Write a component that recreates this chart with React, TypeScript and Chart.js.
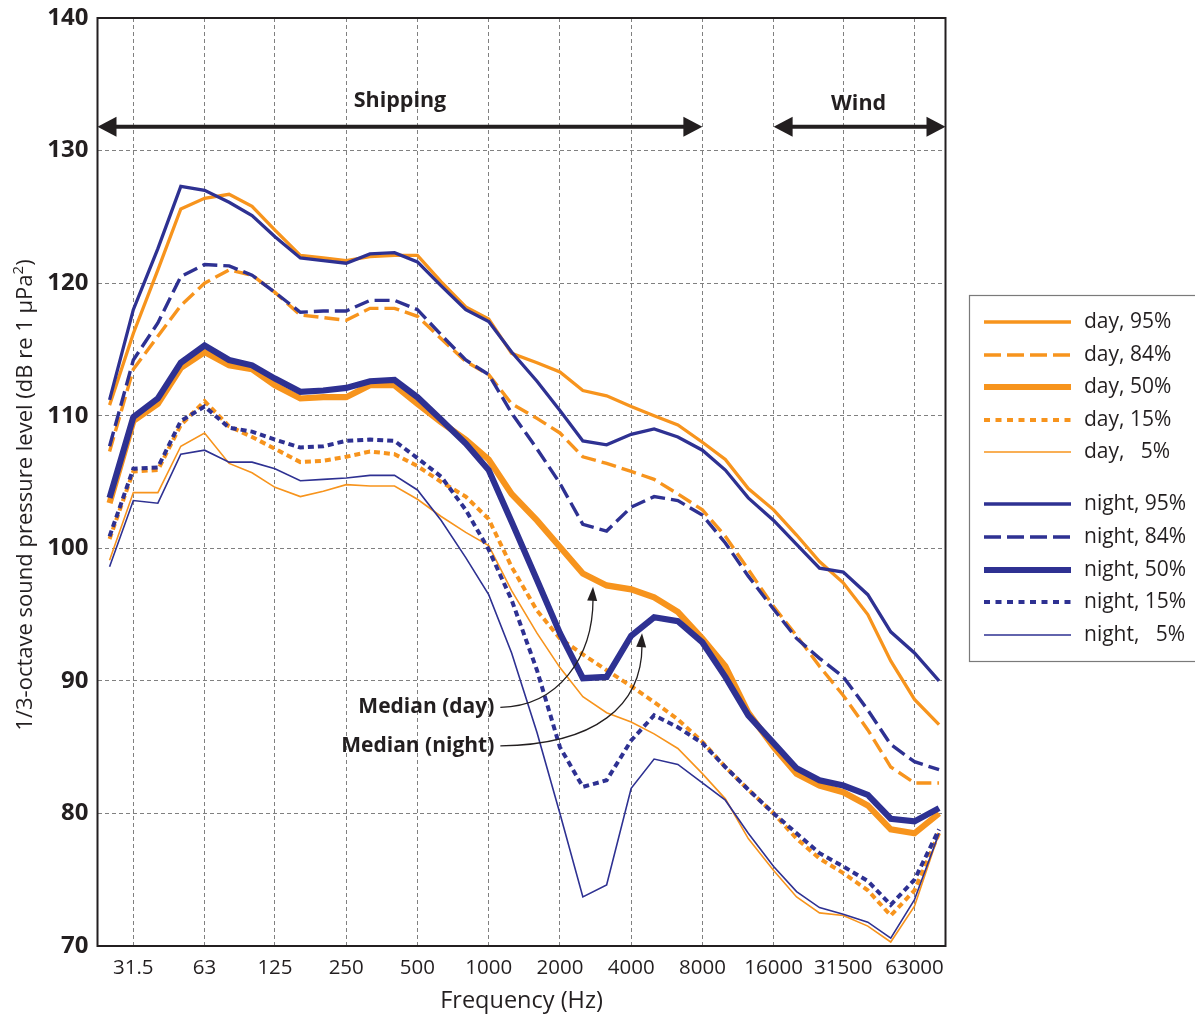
import { useEffect, useRef } from "react";
import { Chart, registerables } from "chart.js";

Chart.register(...registerables);

// ---------- data ----------
const frequencies = [
  25, 31.5, 40, 50, 63, 80, 100, 125, 160, 200, 250, 315, 400, 500, 630, 800,
  1000, 1250, 1600, 2000, 2500, 3150, 4000, 5000, 6300, 8000, 10000, 12500,
  16000, 20000, 25000, 31500, 40000, 50000, 63000, 80000,
];

const xTickValues = [31.5, 63, 125, 250, 500, 1000, 2000, 4000, 8000, 16000, 31500, 63000];
const yTickValues = [70, 80, 90, 100, 110, 120, 130, 140];

const day95 = [110.8, 116.2, 121.0, 125.6, 126.4, 126.7, 125.8, 124.0, 122.1, 121.9, 121.7, 122.0, 122.1, 122.1, 120.1, 118.2, 117.3, 114.7, 114.0, 113.3, 111.9, 111.5, 110.7, 110.0, 109.3, 108.0, 106.7, 104.5, 102.9, 101.0, 99.0, 97.4, 95.0, 91.5, 88.6, 86.7];
const day84 = [107.3, 113.5, 116.0, 118.3, 120.0, 121.0, 120.6, 119.3, 117.6, 117.4, 117.2, 118.1, 118.1, 117.5, 115.8, 114.1, 113.1, 110.9, 109.8, 108.7, 106.9, 106.4, 105.8, 105.2, 104.1, 102.9, 100.9, 98.4, 95.6, 93.4, 91.1, 88.9, 86.3, 83.5, 82.3, 82.3];
const day50 = [103.4, 109.6, 110.9, 113.6, 114.8, 113.8, 113.5, 112.3, 111.3, 111.4, 111.4, 112.3, 112.3, 110.9, 109.5, 108.2, 106.7, 104.1, 102.1, 100.1, 98.1, 97.2, 96.9, 96.3, 95.2, 93.2, 91.1, 87.6, 85.0, 83.0, 82.1, 81.6, 80.6, 78.8, 78.5, 80.0];
const day15 = [100.7, 105.8, 105.9, 109.3, 111.1, 109.2, 108.4, 107.5, 106.5, 106.6, 106.9, 107.3, 107.1, 106.2, 105.0, 103.9, 102.2, 98.6, 95.3, 93.2, 92.0, 90.8, 89.6, 88.4, 87.1, 85.4, 83.5, 81.8, 80.0, 78.1, 76.6, 75.5, 74.2, 72.3, 74.2, 78.5];
const day5 = [99.1, 104.2, 104.2, 107.7, 108.7, 106.4, 105.7, 104.6, 103.9, 104.3, 104.8, 104.7, 104.7, 103.7, 102.4, 101.2, 100.2, 96.8, 93.6, 91.0, 88.8, 87.6, 86.9, 86.0, 84.9, 83.0, 81.1, 78.1, 75.7, 73.7, 72.5, 72.3, 71.5, 70.3, 73.0, 78.5];

const night95 = [111.2, 118.0, 122.6, 127.3, 127.0, 126.1, 125.1, 123.5, 121.9, 121.7, 121.5, 122.2, 122.3, 121.6, 119.8, 118.0, 117.1, 114.8, 112.6, 110.4, 108.1, 107.8, 108.6, 109.0, 108.4, 107.4, 105.9, 103.8, 102.1, 100.3, 98.5, 98.2, 96.5, 93.7, 92.1, 90.0];
const night84 = [107.7, 114.2, 117.0, 120.5, 121.4, 121.3, 120.6, 119.3, 117.8, 117.9, 117.9, 118.7, 118.7, 118.0, 116.1, 114.2, 113.1, 110.2, 107.5, 104.9, 101.8, 101.3, 103.1, 103.9, 103.6, 102.5, 100.4, 97.9, 95.4, 93.2, 91.7, 90.3, 87.8, 85.2, 83.9, 83.3];
const night50 = [103.8, 109.9, 111.3, 114.0, 115.3, 114.2, 113.8, 112.8, 111.8, 111.9, 112.1, 112.6, 112.7, 111.4, 109.7, 107.9, 105.9, 102.0, 97.6, 93.6, 90.2, 90.3, 93.4, 94.8, 94.5, 92.9, 90.3, 87.4, 85.3, 83.4, 82.5, 82.1, 81.4, 79.6, 79.4, 80.4];
const night15 = [100.9, 106.0, 106.1, 109.6, 110.7, 109.1, 108.8, 108.2, 107.6, 107.7, 108.1, 108.2, 108.1, 106.8, 105.4, 102.9, 99.9, 96.1, 90.8, 85.0, 82.0, 82.5, 85.5, 87.4, 86.5, 85.3, 83.5, 81.8, 80.0, 78.5, 77.0, 76.0, 74.9, 73.1, 75.0, 78.8];
const night5 = [98.6, 103.6, 103.4, 107.1, 107.4, 106.5, 106.5, 106.0, 105.1, 105.2, 105.3, 105.5, 105.5, 104.4, 102.1, 99.3, 96.5, 92.1, 86.1, 80.0, 73.7, 74.6, 81.9, 84.1, 83.7, 82.3, 81.0, 78.5, 76.0, 74.1, 72.9, 72.4, 71.8, 70.6, 73.5, 78.5];

const percentiles = ["95%", "84%", "50%", "15%", "5%"];
const dayLabels = ["day, 95%", "day, 84%", "day, 50%", "day, 15%", "day,   5%"];
const nightLabels = ["night, 95%", "night, 84%", "night, 50%", "night, 15%", "night,   5%"];

// annotation anchors (frequency Hz, level dB)
const X_MIN = 22.23;
const X_MAX = 85180;
const Y_MIN = 70;
const Y_MAX = 140;
const bandArrowLevel = 131.8;
const shippingBand = [X_MIN, 8000];
const windBand = [16000, X_MAX];
const medianDayLabel = { f: 1120, db: 88.0 };
const medianDayTip = { f: 2760, db: 97.1 };
const medianNightLabel = { f: 1120, db: 85.1 };
const medianNightTip = { f: 4445, db: 93.6 };

// ---------- styles ----------
const ORANGE = "#F7941D";
const BLUE = "#2E3192";
const TEXT = "#231F20";
const GRID = "#808080";
const FONT = "'Open Sans', 'Noto Sans', sans-serif";

const styleFor: Record<string, { width: number; dash: number[] }> = {
  "95%": { width: 3.3, dash: [] },
  "84%": { width: 3.4, dash: [15, 6] },
  "50%": { width: 6.2, dash: [] },
  "15%": { width: 4, dash: [6, 4] },
  "5%": { width: 1.6, dash: [] },
};

const daySeries = [day95, day84, day50, day15, day5];
const nightSeries = [night95, night84, night50, night15, night5];

function makeDataset(label: string, values: number[], color: string, pct: string, order: number) {
  const s = styleFor[pct];
  return {
    label,
    data: frequencies.map((f, i) => ({ x: f, y: values[i] })),
    borderColor: color,
    backgroundColor: color,
    borderWidth: s.width,
    borderDash: s.dash,
    pointRadius: 0,
    tension: 0,
    fill: false,
    order,
  };
}

function drawArrowHead(ctx: CanvasRenderingContext2D, tipX: number, tipY: number, angle: number, len: number, half: number) {
  ctx.save();
  ctx.translate(tipX, tipY);
  ctx.rotate(angle);
  ctx.beginPath();
  ctx.moveTo(0, 0);
  ctx.lineTo(-len, -half);
  ctx.lineTo(-len, half);
  ctx.closePath();
  ctx.fill();
  ctx.restore();
}

function drawDoubleArrow(ctx: CanvasRenderingContext2D, x1: number, x2: number, yy: number) {
  const head = 19;
  ctx.lineWidth = 4;
  ctx.beginPath();
  ctx.moveTo(x1 + head - 2, yy);
  ctx.lineTo(x2 - head + 2, yy);
  ctx.stroke();
  drawArrowHead(ctx, x1, yy, Math.PI, head, 10);
  drawArrowHead(ctx, x2, yy, 0, head, 10);
}

const decorPlugin = {
  id: "decor",
  afterDatasetsDraw(chart: any) {
    const { ctx, chartArea: a, scales } = chart;
    const xs = scales.x;
    const ys = scales.y;
    ctx.save();

    // frame
    ctx.strokeStyle = TEXT;
    ctx.lineWidth = 2;
    ctx.setLineDash([]);
    ctx.strokeRect(a.left, a.top, a.right - a.left, a.bottom - a.top);

    // band arrows
    ctx.fillStyle = TEXT;
    ctx.strokeStyle = TEXT;
    const ay = ys.getPixelForValue(bandArrowLevel);
    const sx1 = xs.getPixelForValue(shippingBand[0]);
    const sx2 = xs.getPixelForValue(shippingBand[1]);
    const wx1 = xs.getPixelForValue(windBand[0]);
    const wx2 = xs.getPixelForValue(windBand[1]);
    drawDoubleArrow(ctx, sx1, sx2, ay);
    drawDoubleArrow(ctx, wx1, wx2, ay);
    ctx.font = `bold 21.5px ${FONT}`;
    ctx.textAlign = "center";
    ctx.textBaseline = "middle";
    ctx.fillText("Shipping", (sx1 + sx2) / 2, ay - 26);
    ctx.fillText("Wind", (wx1 + wx2) / 2 - 1, ay - 23);

    // median annotations
    const drawMedian = (text: string, lab: { f: number; db: number }, tip: { f: number; db: number }, c1dx: number, c2dy: number) => {
      const x0 = xs.getPixelForValue(lab.f);
      const y0 = ys.getPixelForValue(lab.db);
      const xt = xs.getPixelForValue(tip.f);
      const yt = ys.getPixelForValue(tip.db);
      ctx.font = `bold 21px ${FONT}`;
      ctx.textAlign = "right";
      ctx.textBaseline = "middle";
      ctx.fillStyle = TEXT;
      ctx.fillText(text, x0 - 6, y0);
      const endY = yt + 12;
      ctx.lineWidth = 1.3;
      ctx.beginPath();
      ctx.moveTo(x0, y0);
      ctx.bezierCurveTo(x0 + c1dx, y0 - 1, xt, y0 - c2dy, xt, endY);
      ctx.stroke();
      drawArrowHead(ctx, xt, yt, -Math.PI / 2 + 0.06, 14, 5);
    };
    drawMedian("Median (day)", medianDayLabel, medianDayTip, 58, 50);
    drawMedian("Median (night)", medianNightLabel, medianNightTip, 95, 40);

    // y-axis title with superscript
    ctx.save();
    ctx.translate(26, 495);
    ctx.rotate(-Math.PI / 2);
    ctx.textBaseline = "middle";
    ctx.textAlign = "left";
    const mainText = "1/3-octave sound pressure level (dB re 1 µPa";
    const supText = "2";
    const endText = ")";
    ctx.font = `22px ${FONT}`;
    const w1 = ctx.measureText(mainText).width;
    const w3 = ctx.measureText(endText).width;
    ctx.font = `15px ${FONT}`;
    const w2 = ctx.measureText(supText).width;
    const total = w1 + w2 + w3;
    let cx = -total / 2;
    ctx.fillStyle = TEXT;
    ctx.font = `22px ${FONT}`;
    ctx.fillText(mainText, cx, 0);
    cx += w1;
    ctx.font = `15px ${FONT}`;
    ctx.fillText(supText, cx, -7);
    cx += w2;
    ctx.font = `22px ${FONT}`;
    ctx.fillText(endText, cx, 0);
    ctx.restore();

    // legend
    const lx = 969.5;
    const ly = 295.5;
    ctx.strokeStyle = "#7a7a7a";
    ctx.lineWidth = 1.2;
    ctx.setLineDash([]);
    ctx.strokeRect(lx, ly, 300, 366);
    const rowsDay = [322, 355, 387, 420, 452];
    const rowsNight = [504, 537, 570, 602, 635];
    const drawRow = (yy: number, color: string, pct: string, label: string) => {
      const s = styleFor[pct];
      ctx.strokeStyle = color;
      ctx.lineWidth = s.width;
      ctx.setLineDash(pct === "84%" ? [17, 6] : pct === "15%" ? [6, 5.5] : []);
      ctx.beginPath();
      ctx.moveTo(984, yy);
      ctx.lineTo(1071, yy);
      ctx.stroke();
      ctx.setLineDash([]);
      ctx.fillStyle = TEXT;
      ctx.font = `21px ${FONT}`;
      ctx.textAlign = "left";
      ctx.textBaseline = "middle";
      ctx.fillText(label, 1084, yy);
    };
    percentiles.forEach((p, i) => drawRow(rowsDay[i], ORANGE, p, dayLabels[i]));
    percentiles.forEach((p, i) => drawRow(rowsNight[i], BLUE, p, nightLabels[i]));

    ctx.restore();
  },
};

export default function App() {
  const ref = useRef<HTMLCanvasElement>(null);

  useEffect(() => {
    document.body.style.margin = "0";
    const canvas = ref.current;
    if (!canvas) return;

    const datasets = [
      ...percentiles.map((p, i) => makeDataset(dayLabels[i], daySeries[i], ORANGE, p, 2)),
      ...percentiles.map((p, i) => makeDataset(nightLabels[i], nightSeries[i], BLUE, p, 1)),
    ];

    const chart = new Chart(canvas, {
      type: "line",
      data: { datasets } as any,
      options: {
        responsive: false,
        animation: false,
        devicePixelRatio: 1,
        layout: { padding: { left: 0, right: 249.5, top: 18, bottom: 0 } },
        plugins: {
          legend: { display: false },
          tooltip: { enabled: false },
        },
        elements: { point: { radius: 0 }, line: { tension: 0 } },
        scales: {
          x: {
            type: "logarithmic",
            min: X_MIN,
            max: X_MAX,
            afterBuildTicks: (s: any) => {
              s.ticks = xTickValues.map((v) => ({ value: v }));
            },
            afterFit: (s: any) => {
              s.height = 70;
              s.paddingLeft = 0;
              s.paddingRight = 0;
            },
            grid: { color: GRID, lineWidth: 1, drawTicks: false },
            border: { display: false, dash: [4, 3] },
            ticks: {
              autoSkip: false,
              maxRotation: 0,
              minRotation: 0,
              padding: 10,
              color: TEXT,
              font: { family: FONT, size: 20.5 },
              callback: (v: any) => String(v),
            },
            title: {
              display: true,
              text: "Frequency (Hz)",
              color: TEXT,
              font: { family: FONT, size: 23.5 },
              padding: { top: 0, bottom: 1 },
            },
          },
          y: {
            type: "linear",
            min: Y_MIN,
            max: Y_MAX,
            afterBuildTicks: (s: any) => {
              s.ticks = yTickValues.map((v) => ({ value: v }));
            },
            afterFit: (s: any) => {
              s.width = 97.5;
              s.paddingTop = 0;
              s.paddingBottom = 0;
            },
            grid: { color: GRID, lineWidth: 1, drawTicks: false },
            border: { display: false, dash: [4, 3] },
            ticks: {
              padding: 9,
              color: TEXT,
              font: { family: FONT, size: 24, weight: "bold" },
            },
          },
        },
      } as any,
      plugins: [decorPlugin],
    });

    return () => chart.destroy();
  }, []);

  return (
    <canvas
      ref={ref}
      width={1195}
      height={1016}
      style={{ display: "block", width: 1195, height: 1016 }}
    />
  );
}
